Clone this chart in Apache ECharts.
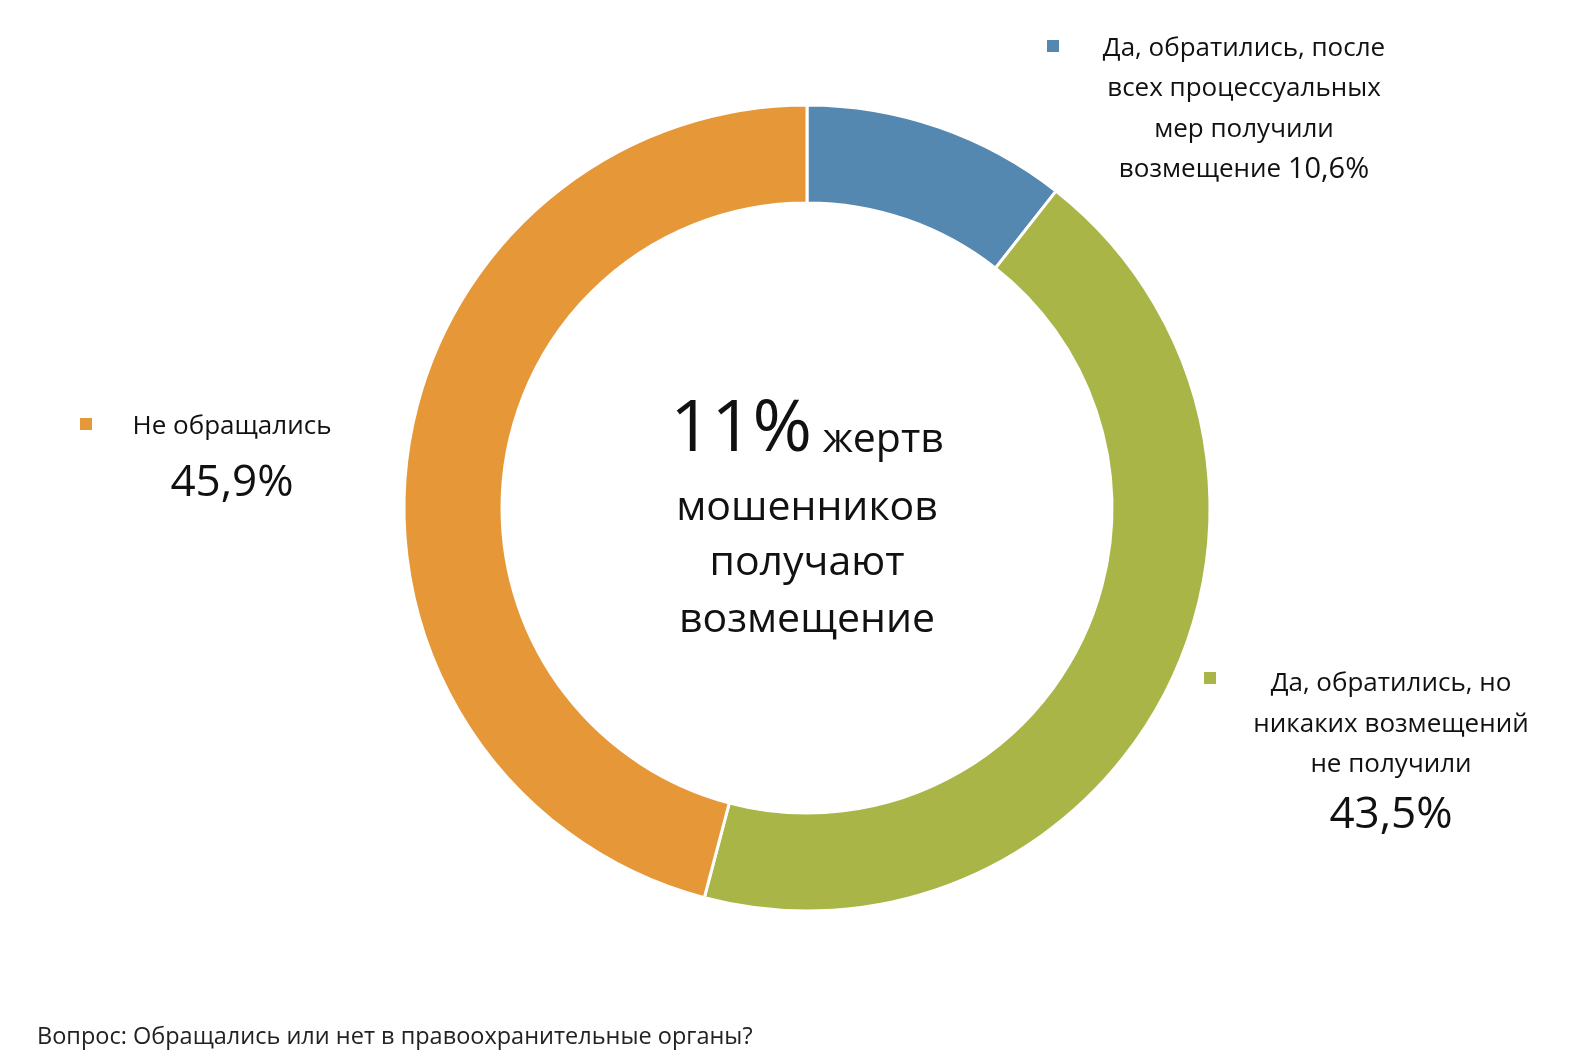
<!DOCTYPE html>
<html><head><meta charset="utf-8">
<script src="https://cdn.jsdelivr.net/npm/echarts@6/dist/echarts.min.js"></script>
<style>html,body{margin:0;padding:0;background:#fff}#c{width:1592px;height:1060px}</style>
</head><body><div id="c"></div>
<script>
const categories = [
  ['Да, обратились, после', 'всех процессуальных', 'мер получили', 'возмещение'],
  ['Да, обратились, но', 'никаких возмещений', 'не получили'],
  ['Не обращались']
];
const values = [10.6, 43.5, 45.9];
const colors = ['#5488B0', '#A9B547', '#E69737'];
const centerLines = ['жертв', 'мошенников', 'получают', 'возмещение'];
const footnote = 'Вопрос: Обращались или нет в правоохранительные органы?';

const FONT = '"Open Sans", "Noto Sans", sans-serif';
const fmt = v => v.toFixed(1).replace('.', ',') + '%';

const chart = echarts.init(document.getElementById('c'), null, {renderer: 'canvas'});

function txt(x, y, text, size) {
  return {
    type: 'text', x: x, y: y,
    style: {text: text, fill: '#111', font: size + 'px ' + FONT, textAlign: 'center', textVerticalAlign: 'middle'}
  };
}
function sq(x, y, color) {
  return {type: 'rect', shape: {x: x - 6, y: y - 6, width: 12, height: 12}, style: {fill: color}};
}

const g = [];
// Top-right label (series 0)
g.push(sq(1053, 46, colors[0]));
const tr = categories[0];
g.push(txt(1244, 49, tr[0], 26));
g.push(txt(1244, 89, tr[1], 26));
g.push(txt(1244, 130, tr[2], 26));
g.push({type: 'text', x: 1244, y: 170, style: {
  text: '{a|' + tr[3] + ' }{b|' + fmt(values[0]) + '}',
  rich: {a: {fontSize: 26, fontFamily: FONT, fill: '#111'}, b: {fontSize: 29, fontFamily: FONT, fill: '#111'}},
  textAlign: 'center', textVerticalAlign: 'middle'}});
// Bottom-right (series 1)
g.push(sq(1210, 678, colors[1]));
const br = categories[1];
g.push(txt(1391, 684, br[0], 26));
g.push(txt(1391, 725, br[1], 26));
g.push(txt(1391, 765, br[2], 26));
g.push(txt(1391, 815, fmt(values[1]), 44));
// Left (series 2)
g.push(sq(86, 424, colors[2]));
g.push(txt(232, 427, categories[2][0], 26));
g.push(txt(232, 483, fmt(values[2]), 44));
// Center
g.push({type: 'text', x: 807, y: 430, style: {
  text: '{a|' + Math.round(values[0]) + '%}{b| ' + centerLines[0] + '}',
  rich: {a: {fontSize: 72, fontFamily: FONT, fill: '#111'}, b: {fontSize: 41, fontFamily: FONT, fill: '#111', padding: [20, 0, 0, 0]}},
  textAlign: 'center', textVerticalAlign: 'middle'}});
g.push(txt(807, 508, centerLines[1], 41));
g.push(txt(807, 563, centerLines[2], 41));
g.push(txt(807, 620, centerLines[3], 41));
// Footnote
g.push({type: 'text', x: 37, y: 1037, style: {text: footnote, fill: '#222', font: '23.5px ' + FONT, textAlign: 'left', textVerticalAlign: 'middle'}});

chart.setOption({
  animation: false,
  backgroundColor: '#fff',
  series: [{
    type: 'pie',
    center: [807, 508],
    radius: [305, 403],
    startAngle: 90,
    clockwise: true,
    label: {show: false},
    labelLine: {show: false},
    itemStyle: {borderColor: '#fff', borderWidth: 3},
    emphasis: {disabled: true},
    data: values.map((v, i) => ({value: v, name: categories[i].join(' '), itemStyle: {color: colors[i]}}))
  }],
  graphic: g
});
</script></body></html>
